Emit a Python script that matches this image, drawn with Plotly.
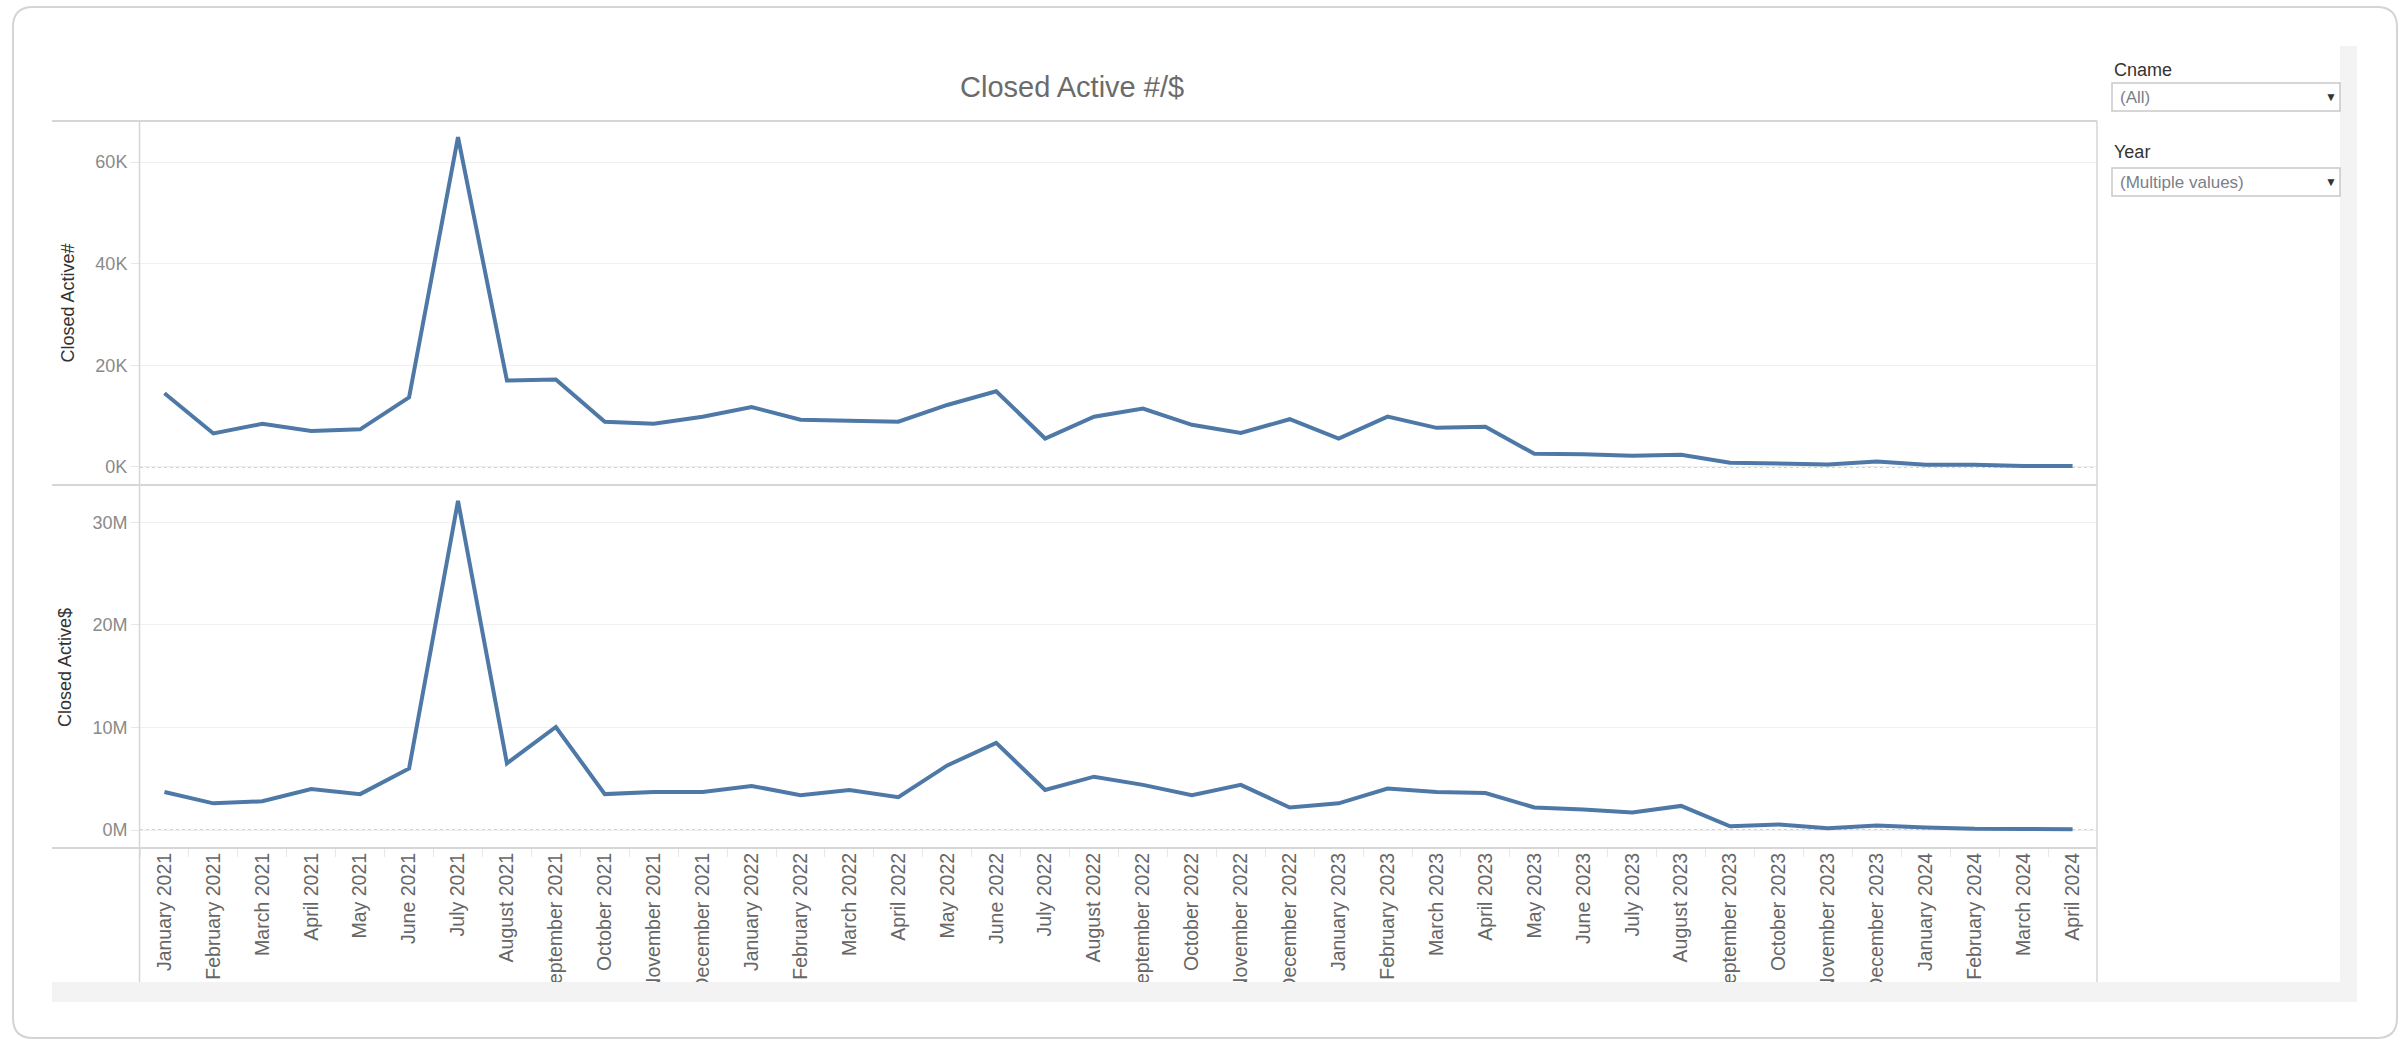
import plotly.graph_objects as go

# ---------------- data ----------------
months = [
    "January 2021", "February 2021", "March 2021", "April 2021", "May 2021", "June 2021",
    "July 2021", "August 2021", "September 2021", "October 2021", "November 2021", "December 2021",
    "January 2022", "February 2022", "March 2022", "April 2022", "May 2022", "June 2022",
    "July 2022", "August 2022", "September 2022", "October 2022", "November 2022", "December 2022",
    "January 2023", "February 2023", "March 2023", "April 2023", "May 2023", "June 2023",
    "July 2023", "August 2023", "September 2023", "October 2023", "November 2023", "December 2023",
    "January 2024", "February 2024", "March 2024", "April 2024",
]

closed_active_count = [
    14500, 6600, 8500, 7100, 7400, 13700, 64900, 17000, 17200, 8900, 8500, 9900,
    11800, 9300, 9100, 8900, 12200, 14900, 5600, 9900, 11500, 8300, 6700, 9400,
    5600, 9900, 7700, 7900, 2600, 2500, 2200, 2400, 850, 660, 500, 1100,
    460, 460, 200, 200,
]

closed_active_amount = [
    3.7e6, 2.6e6, 2.8e6, 4.0e6, 3.5e6, 6.0e6, 32.1e6, 6.5e6, 10.05e6, 3.5e6, 3.7e6, 3.7e6,
    4.3e6, 3.4e6, 3.9e6, 3.2e6, 6.3e6, 8.5e6, 3.9e6, 5.2e6, 4.4e6, 3.4e6, 4.4e6, 2.2e6,
    2.6e6, 4.05e6, 3.7e6, 3.6e6, 2.2e6, 2.0e6, 1.7e6, 2.35e6, 0.36e6, 0.54e6, 0.18e6, 0.43e6,
    0.25e6, 0.11e6, 0.10e6, 0.07e6,
]

count_tickvals = [0, 20000, 40000, 60000]
count_ticktext = ["0K", "20K", "40K", "60K"]
amount_tickvals = [0, 10e6, 20e6, 30e6]
amount_ticktext = ["0M", "10M", "20M", "30M"]

# ---------------- geometry helpers ----------------
W, H = 2402, 1040
def px(x):
    return x / W
def py(y):
    return 1 - y / H

LINE_COLOR = "#4e79a7"
FONT = "Liberation Sans, Arial, sans-serif"

fig = go.Figure()
fig.add_trace(go.Scatter(x=months, y=closed_active_count, mode="lines",
                         line=dict(color=LINE_COLOR, width=4), xaxis="x", yaxis="y",
                         showlegend=False))
fig.add_trace(go.Scatter(x=months, y=closed_active_amount, mode="lines",
                         line=dict(color=LINE_COLOR, width=4), xaxis="x2", yaxis="y2",
                         showlegend=False))

xdom = [px(140), px(2097)]
common_y = dict(
    showgrid=True, gridcolor="#efefef", gridwidth=1, zeroline=False,
    ticks="outside", ticklen=8, tickcolor="#e6e6e6", tickwidth=1,
    tickfont=dict(family=FONT, size=18, color="#8a8a8a"),
    showline=False, fixedrange=True,
    title=dict(font=dict(family=FONT, size=18, color="#333333"), standoff=16),
)

fig.update_layout(
    width=W, height=H,
    margin=dict(l=0, r=0, t=0, b=0),
    paper_bgcolor="white", plot_bgcolor="white",
    xaxis=dict(domain=xdom, anchor="y", matches="x2", showticklabels=False,
               showgrid=False, zeroline=False, showline=False, ticks=""),
    xaxis2=dict(domain=xdom, anchor="y2", showgrid=False, zeroline=False, showline=False,
                type="category", range=[-0.5, len(months) - 0.5],
                ticks="outside", tickson="boundaries", ticklen=8, tickcolor="#e8e8e8",
                tickangle=-90, tickfont=dict(family=FONT, size=19.5, color="#666666")),
    yaxis=dict(domain=[py(485), py(121)], anchor="x", range=[-3546, 68077],
               tickvals=count_tickvals, ticktext=count_ticktext,
               **{**common_y, "title": dict(text="Closed Active#", **common_y["title"])}),
    yaxis2=dict(domain=[py(848), py(487)], anchor="x2", range=[-1.756e6, 33.46e6],
                tickvals=amount_tickvals, ticktext=amount_ticktext,
                **{**common_y, "title": dict(text="Closed Active$", **common_y["title"])}),
)

shapes = []
# dotted zero lines
for yr, xr in (("y", "x domain"), ("y2", "x2 domain")):
    shapes.append(dict(type="line", xref=xr, yref=yr, x0=0, x1=1, y0=0, y1=0,
                       line=dict(color="#c4c4c4", width=1.5, dash="dot"), layer="below"))

# pane borders
for yy in (121, 485, 848):
    shapes.append(dict(type="line", xref="paper", yref="paper", x0=px(52), x1=px(2097),
                       y0=py(yy), y1=py(yy), line=dict(color="#d6d6d6", width=2), layer="above"))
for xx in (139.5, 2097):
    shapes.append(dict(type="line", xref="paper", yref="paper", x0=px(xx), x1=px(xx),
                       y0=py(121), y1=py(982), line=dict(color="#d6d6d6", width=1.5), layer="above"))

# white area below dashboard, gray strips
shapes.append(dict(type="rect", xref="paper", yref="paper", x0=0, x1=1, y0=py(1040), y1=py(1002),
                   fillcolor="white", line=dict(width=0), layer="above"))
shapes.append(dict(type="rect", xref="paper", yref="paper", x0=px(52), x1=px(2357),
                   y0=py(1002), y1=py(982), fillcolor="#f3f3f3", line=dict(width=0), layer="above"))
shapes.append(dict(type="rect", xref="paper", yref="paper", x0=px(2340), x1=px(2357),
                   y0=py(1002), y1=py(46), fillcolor="#f3f3f3", line=dict(width=0), layer="above"))

# filter dropdown boxes
for top, bot in ((83, 111), (168, 196)):
    shapes.append(dict(type="rect", xref="paper", yref="paper", x0=px(2112), x1=px(2340),
                       y0=py(bot), y1=py(top), fillcolor="white",
                       line=dict(color="#c9c9c9", width=1.5), layer="above"))

# rounded card border
x0, y0, x1, y1, r = 13, 7, 2397, 1038, 20
def P(x, y):
    return f"{px(x):.6f},{py(y):.6f}"
path = (f"M {P(x0 + r, y0)} L {P(x1 - r, y0)} Q {P(x1, y0)} {P(x1, y0 + r)} "
        f"L {P(x1, y1 - r)} Q {P(x1, y1)} {P(x1 - r, y1)} "
        f"L {P(x0 + r, y1)} Q {P(x0, y1)} {P(x0, y1 - r)} "
        f"L {P(x0, y0 + r)} Q {P(x0, y0)} {P(x0 + r, y0)} Z")
shapes.append(dict(type="path", xref="paper", yref="paper", path=path,
                   line=dict(color="#d4d4d4", width=2), layer="above"))

fig.update_layout(shapes=shapes)

annotations = [
    dict(text="Closed Active #/$", x=px(1072), y=py(87), xref="paper", yref="paper",
         showarrow=False, xanchor="center", yanchor="middle",
         font=dict(family=FONT, size=29, color="#6b6b6b")),
    dict(text="Cname", x=px(2112), y=py(70), xref="paper", yref="paper", showarrow=False,
         xanchor="left", yanchor="middle", font=dict(family=FONT, size=18, color="#333333")),
    dict(text="(All)", x=px(2118), y=py(97), xref="paper", yref="paper", showarrow=False,
         xanchor="left", yanchor="middle", font=dict(family=FONT, size=17, color="#7a7f88")),
    dict(text="▼", x=px(2331), y=py(97), xref="paper", yref="paper", showarrow=False,
         xanchor="center", yanchor="middle", font=dict(family=FONT, size=12, color="#333333")),
    dict(text="Year", x=px(2112), y=py(152), xref="paper", yref="paper", showarrow=False,
         xanchor="left", yanchor="middle", font=dict(family=FONT, size=18, color="#333333")),
    dict(text="(Multiple values)", x=px(2118), y=py(182), xref="paper", yref="paper",
         showarrow=False, xanchor="left", yanchor="middle",
         font=dict(family=FONT, size=17, color="#7a7f88")),
    dict(text="▼", x=px(2331), y=py(182), xref="paper", yref="paper", showarrow=False,
         xanchor="center", yanchor="middle", font=dict(family=FONT, size=12, color="#333333")),
]
fig.update_layout(annotations=annotations)

fig.write_html("out.html", config={"displayModeBar": False},
               post_script="document.body.style.margin='0';document.body.style.overflow='hidden';")
